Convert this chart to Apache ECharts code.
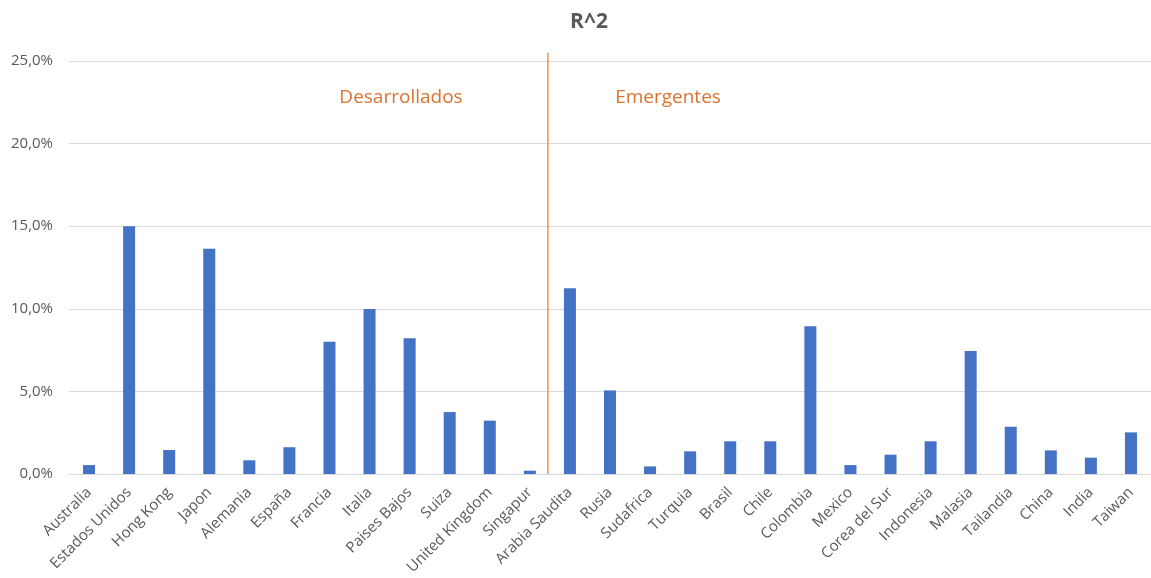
<!DOCTYPE html>
<html>
<head>
<meta charset="utf-8">
<script src="https://cdn.jsdelivr.net/npm/echarts@6/dist/echarts.min.js"></script>
<style>
  html, body { margin: 0; padding: 0; background: #fff; }
  #chart { width: 1151px; height: 578px; }
</style>
</head>
<body>
<div id="chart"></div>
<script>
// R^2 por país (en %)
const countries = [
  'Australia', 'Estados Unidos', 'Hong Kong', 'Japon', 'Alemania', 'España',
  'Francia', 'Italia', 'Paises Bajos', 'Suiza', 'United Kingdom', 'Singapur',
  'Arabia Saudita', 'Rusia', 'Sudafrica', 'Turquia', 'Brasil', 'Chile',
  'Colombia', 'Mexico', 'Corea del Sur', 'Indonesia', 'Malasia', 'Tailandia',
  'China', 'India', 'Taiwan'
];
const r2Values = [
  0.54, 15.0, 1.45, 13.64, 0.83, 1.62,
  8.01, 9.99, 8.21, 3.75, 3.23, 0.20,
  11.24, 5.06, 0.46, 1.37, 1.98, 1.98,
  8.95, 0.54, 1.17, 1.98, 7.45, 2.86,
  1.43, 0.99, 2.52
];
const yTicks = [0, 5, 10, 15, 20, 25];
// Separador entre mercados desarrollados y emergentes (posición en índices de categoría)
const dividerPos = 11.45;
const dividerRange = [0, 25.5];
const groupNames = ['Desarrollados', 'Emergentes'];

const chart = echarts.init(document.getElementById('chart'));
const fmt = v => v.toFixed(1).replace('.', ',') + '%';

chart.setOption({
  animation: false,
  title: {
    text: 'R^2',
    left: 584,
    top: 7,
    textAlign: 'center',
    textStyle: { fontFamily: 'Open Sans', fontSize: 21, fontWeight: 'bold', color: '#595959' }
  },
  grid: { left: 69, right: 0, top: 61, bottom: 104 },
  xAxis: [
    {
      type: 'category',
      data: countries,
      axisLine: { lineStyle: { color: '#d9d9d9' } },
      axisTick: { show: false },
      axisLabel: {
        rotate: 45,
        interval: 0,
        margin: 16,
        fontFamily: 'Open Sans',
        fontSize: 15,
        color: '#595959'
      }
    },
    {
      type: 'value',
      min: -0.5,
      max: countries.length - 0.5,
      show: false
    }
  ],
  yAxis: {
    type: 'value',
    min: yTicks[0],
    max: yTicks[yTicks.length - 1],
    interval: 5,
    axisLine: { show: false },
    axisTick: { show: false },
    splitLine: { lineStyle: { color: '#d9d9d9', width: 1 } },
    axisLabel: {
      margin: 16,
      fontFamily: 'Open Sans',
      fontSize: 15,
      color: '#595959',
      formatter: fmt
    }
  },
  series: [
    {
      type: 'bar',
      data: r2Values,
      barWidth: 12,
      itemStyle: { color: '#4472C4' }
    },
    {
      type: 'line',
      xAxisIndex: 1,
      data: [[dividerPos, dividerRange[0]], [dividerPos, dividerRange[1]]],
      symbol: 'none',
      clip: false,
      lineStyle: { color: '#F4904A', width: 1.5 },
      z: 5
    }
  ],
  graphic: [
    {
      type: 'text',
      x: 401, y: 98,
      style: {
        text: groupNames[0],
        fill: '#D9732F',
        font: '19px "Open Sans"',
        align: 'center',
        verticalAlign: 'middle'
      }
    },
    {
      type: 'text',
      x: 668, y: 98,
      style: {
        text: groupNames[1],
        fill: '#D9732F',
        font: '19px "Open Sans"',
        align: 'center',
        verticalAlign: 'middle'
      }
    }
  ]
});
</script>
</body>
</html>
